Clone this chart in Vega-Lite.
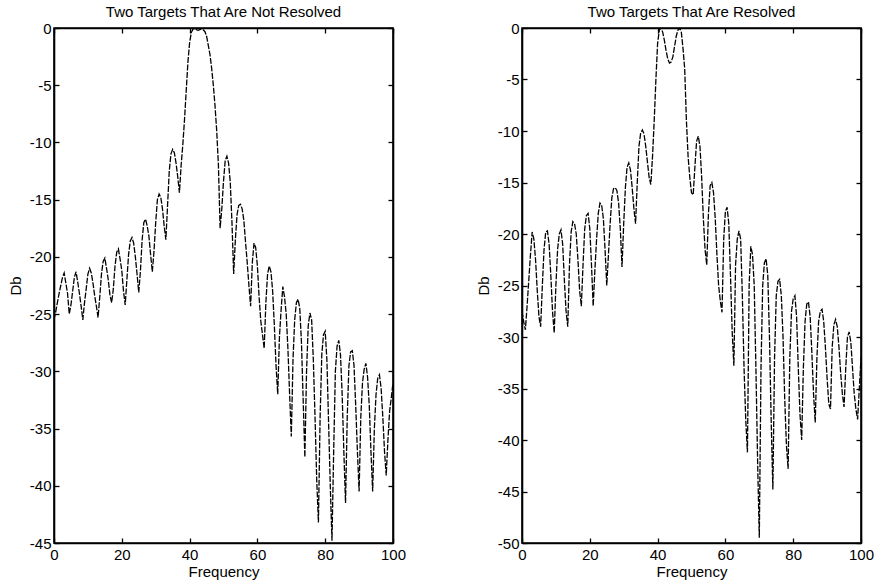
{
  "$schema": "https://vega.github.io/schema/vega-lite/v6.json",
  "background": "white",
  "padding": {"left": 7, "top": 4, "right": 4, "bottom": 2},
  "spacing": 68,
  "config": {
    "font": "Liberation Sans",
    "view": {"stroke": "black", "strokeWidth": 1.6},
    "axis": {
      "grid": false,
      "domainColor": "black",
      "domainWidth": 1.6,
      "tickColor": "black",
      "tickSize": -5,
      "tickWidth": 1.3,
      "labelFont": "Liberation Sans",
      "labelFontSize": 15,
      "labelColor": "black",
      "labelPadding": 8,
      "labelFlush": false,
      "labelOverlap": false,
      "labelExpr": "toString(datum.value)",
      "titleFont": "Liberation Sans",
      "titleFontSize": 15,
      "titleFontWeight": "normal",
      "titleColor": "black"
    },
    "title": {"font": "Liberation Sans", "fontSize": 15, "fontWeight": "normal", "color": "black", "anchor": "middle", "frame": "group", "offset": 1}
  },
  "datasets": {
    "notResolved": [
      {"f": 0, "db": -25.5}, {"f": 0.5, "db": -24.8}, {"f": 1, "db": -24.0}, {"f": 1.5, "db": -23.2}, {"f": 2, "db": -22.5}, {"f": 2.5, "db": -21.8}, {"f": 3, "db": -21.4}, {"f": 3.5, "db": -22.3}, {"f": 4, "db": -23.2}, {"f": 4.5, "db": -25.0},
      {"f": 5, "db": -24.2}, {"f": 5.5, "db": -23.0}, {"f": 6, "db": -21.8}, {"f": 6.5, "db": -21.3}, {"f": 7, "db": -22.2}, {"f": 7.5, "db": -23.2}, {"f": 8, "db": -24.3}, {"f": 8.5, "db": -25.5}, {"f": 9, "db": -24.0}, {"f": 9.5, "db": -22.8},
      {"f": 10, "db": -21.5}, {"f": 10.5, "db": -21.0}, {"f": 11, "db": -21.4}, {"f": 11.5, "db": -22.3}, {"f": 12, "db": -23.4}, {"f": 12.5, "db": -24.3}, {"f": 13, "db": -25.3}, {"f": 13.5, "db": -23.5}, {"f": 14, "db": -21.5}, {"f": 14.5, "db": -20.4},
      {"f": 15, "db": -20.1}, {"f": 15.5, "db": -21.0}, {"f": 16, "db": -22.0}, {"f": 16.5, "db": -23.3}, {"f": 17, "db": -24.0}, {"f": 17.5, "db": -22.8}, {"f": 18, "db": -20.8}, {"f": 18.5, "db": -19.6}, {"f": 19, "db": -19.3}, {"f": 19.5, "db": -20.2},
      {"f": 20, "db": -21.2}, {"f": 20.5, "db": -23.0}, {"f": 21, "db": -24.2}, {"f": 21.5, "db": -22.0}, {"f": 22, "db": -19.8}, {"f": 22.5, "db": -18.6}, {"f": 23, "db": -18.3}, {"f": 23.5, "db": -18.8}, {"f": 24, "db": -20.0}, {"f": 24.5, "db": -21.5},
      {"f": 25, "db": -23.1}, {"f": 25.5, "db": -21.2}, {"f": 26, "db": -18.5}, {"f": 26.5, "db": -17.0}, {"f": 27, "db": -16.7}, {"f": 27.5, "db": -17.3}, {"f": 28, "db": -18.2}, {"f": 28.5, "db": -19.8}, {"f": 29, "db": -21.3}, {"f": 29.5, "db": -19.5},
      {"f": 30, "db": -17.0}, {"f": 30.5, "db": -15.0}, {"f": 31, "db": -14.5}, {"f": 31.5, "db": -14.8}, {"f": 32, "db": -15.8}, {"f": 32.5, "db": -17.3}, {"f": 33, "db": -18.5}, {"f": 33.5, "db": -15.5}, {"f": 34, "db": -12.5}, {"f": 34.5, "db": -11.0},
      {"f": 35, "db": -10.6}, {"f": 35.5, "db": -10.9}, {"f": 36, "db": -11.8}, {"f": 36.5, "db": -13.0}, {"f": 37, "db": -14.4}, {"f": 37.5, "db": -12.0}, {"f": 38, "db": -10.2}, {"f": 38.5, "db": -8.0}, {"f": 39, "db": -5.5}, {"f": 39.5, "db": -3.0},
      {"f": 40, "db": -1.3}, {"f": 40.5, "db": -0.4}, {"f": 41, "db": -0.1}, {"f": 41.5, "db": -0.05}, {"f": 42, "db": -0.15}, {"f": 42.5, "db": -0.2}, {"f": 43, "db": -0.15}, {"f": 43.5, "db": -0.1}, {"f": 44, "db": -0.15}, {"f": 44.5, "db": -0.3},
      {"f": 45, "db": -0.7}, {"f": 45.5, "db": -1.5}, {"f": 46, "db": -2.3}, {"f": 46.5, "db": -3.5}, {"f": 47, "db": -5.0}, {"f": 47.5, "db": -6.8}, {"f": 48, "db": -9.0}, {"f": 48.5, "db": -12.0}, {"f": 49, "db": -17.5}, {"f": 49.5, "db": -15.8},
      {"f": 50, "db": -13.4}, {"f": 50.5, "db": -11.6}, {"f": 51, "db": -11.2}, {"f": 51.5, "db": -11.8}, {"f": 52, "db": -13.5}, {"f": 52.5, "db": -17.0}, {"f": 53, "db": -21.5}, {"f": 53.5, "db": -18.5}, {"f": 54, "db": -16.3}, {"f": 54.5, "db": -15.5},
      {"f": 55, "db": -15.4}, {"f": 55.5, "db": -15.8}, {"f": 56, "db": -16.8}, {"f": 56.5, "db": -18.7}, {"f": 57, "db": -20.5}, {"f": 57.5, "db": -22.5}, {"f": 58, "db": -24.3}, {"f": 58.5, "db": -20.5}, {"f": 59, "db": -18.8}, {"f": 59.5, "db": -19.2},
      {"f": 60, "db": -20.8}, {"f": 60.5, "db": -23.5}, {"f": 61, "db": -25.6}, {"f": 61.5, "db": -26.8}, {"f": 62, "db": -28.0}, {"f": 62.5, "db": -24.0}, {"f": 63, "db": -21.5}, {"f": 63.5, "db": -20.8}, {"f": 64, "db": -21.3}, {"f": 64.5, "db": -23.0},
      {"f": 65, "db": -26.0}, {"f": 65.5, "db": -29.5}, {"f": 66, "db": -32.0}, {"f": 66.5, "db": -27.0}, {"f": 67, "db": -24.6}, {"f": 67.5, "db": -22.6}, {"f": 68, "db": -23.5}, {"f": 68.5, "db": -25.0}, {"f": 69, "db": -28.0}, {"f": 69.5, "db": -32.0},
      {"f": 70, "db": -35.7}, {"f": 70.5, "db": -29.0}, {"f": 71, "db": -25.5}, {"f": 71.5, "db": -24.0}, {"f": 72, "db": -23.7}, {"f": 72.5, "db": -24.5}, {"f": 73, "db": -27.5}, {"f": 73.5, "db": -32.5}, {"f": 74, "db": -37.5}, {"f": 74.5, "db": -30.0},
      {"f": 75, "db": -26.0}, {"f": 75.5, "db": -24.9}, {"f": 76, "db": -25.5}, {"f": 76.5, "db": -29.0}, {"f": 77, "db": -34.0}, {"f": 77.5, "db": -39.5}, {"f": 78, "db": -43.2}, {"f": 78.5, "db": -34.0}, {"f": 79, "db": -28.5}, {"f": 79.5, "db": -26.8},
      {"f": 80, "db": -26.5}, {"f": 80.5, "db": -29.0}, {"f": 81, "db": -34.5}, {"f": 81.5, "db": -40.0}, {"f": 82, "db": -44.8}, {"f": 82.5, "db": -37.0}, {"f": 83, "db": -30.0}, {"f": 83.5, "db": -27.8}, {"f": 84, "db": -27.3}, {"f": 84.5, "db": -28.5},
      {"f": 85, "db": -32.0}, {"f": 85.5, "db": -37.0}, {"f": 86, "db": -41.5}, {"f": 86.5, "db": -34.0}, {"f": 87, "db": -29.5}, {"f": 87.5, "db": -28.3}, {"f": 88, "db": -28.2}, {"f": 88.5, "db": -29.5}, {"f": 89, "db": -33.0}, {"f": 89.5, "db": -37.0},
      {"f": 90, "db": -40.5}, {"f": 90.5, "db": -34.0}, {"f": 91, "db": -31.0}, {"f": 91.5, "db": -29.8}, {"f": 92, "db": -29.3}, {"f": 92.5, "db": -30.5}, {"f": 93, "db": -33.0}, {"f": 93.5, "db": -37.0}, {"f": 94, "db": -40.5}, {"f": 94.5, "db": -35.0},
      {"f": 95, "db": -32.0}, {"f": 95.5, "db": -30.6}, {"f": 96, "db": -30.3}, {"f": 96.5, "db": -31.5}, {"f": 97, "db": -34.0}, {"f": 97.5, "db": -37.0}, {"f": 98, "db": -39.1}, {"f": 98.5, "db": -36.0}, {"f": 99, "db": -33.5}, {"f": 99.5, "db": -32.3},
      {"f": 100, "db": -31.0}
    ],
    "resolved": [
      {"f": 0, "db": -27.5}, {"f": 0.5, "db": -28.5}, {"f": 1, "db": -29.3}, {"f": 1.5, "db": -27.0}, {"f": 2, "db": -24.5}, {"f": 2.5, "db": -22.0}, {"f": 3, "db": -19.8}, {"f": 3.5, "db": -20.5}, {"f": 4, "db": -22.5}, {"f": 4.5, "db": -25.5},
      {"f": 5, "db": -28.0}, {"f": 5.5, "db": -29.0}, {"f": 6, "db": -25.0}, {"f": 6.5, "db": -21.5}, {"f": 7, "db": -19.8}, {"f": 7.5, "db": -19.7}, {"f": 8, "db": -21.0}, {"f": 8.5, "db": -24.0}, {"f": 9, "db": -27.5}, {"f": 9.5, "db": -29.6},
      {"f": 10, "db": -25.0}, {"f": 10.5, "db": -21.5}, {"f": 11, "db": -20.0}, {"f": 11.5, "db": -19.6}, {"f": 12, "db": -21.0}, {"f": 12.5, "db": -24.5}, {"f": 13, "db": -27.5}, {"f": 13.5, "db": -29.0}, {"f": 14, "db": -23.0}, {"f": 14.5, "db": -19.8},
      {"f": 15, "db": -18.8}, {"f": 15.5, "db": -19.0}, {"f": 16, "db": -20.0}, {"f": 16.5, "db": -22.5}, {"f": 17, "db": -25.5}, {"f": 17.5, "db": -27.0}, {"f": 18, "db": -23.0}, {"f": 18.5, "db": -19.5}, {"f": 19, "db": -18.2}, {"f": 19.5, "db": -18.0},
      {"f": 20, "db": -19.5}, {"f": 20.5, "db": -23.0}, {"f": 21, "db": -27.0}, {"f": 21.5, "db": -23.5}, {"f": 22, "db": -20.5}, {"f": 22.5, "db": -18.0}, {"f": 23, "db": -17.0}, {"f": 23.5, "db": -17.2}, {"f": 24, "db": -18.5}, {"f": 24.5, "db": -21.5},
      {"f": 25, "db": -25.0}, {"f": 25.5, "db": -22.0}, {"f": 26, "db": -19.0}, {"f": 26.5, "db": -16.5}, {"f": 27, "db": -15.6}, {"f": 27.5, "db": -15.5}, {"f": 28, "db": -15.8}, {"f": 28.5, "db": -17.0}, {"f": 29, "db": -19.5}, {"f": 29.5, "db": -23.2},
      {"f": 30, "db": -19.0}, {"f": 30.5, "db": -15.5}, {"f": 31, "db": -13.5}, {"f": 31.5, "db": -13.1}, {"f": 32, "db": -13.8}, {"f": 32.5, "db": -15.5}, {"f": 33, "db": -17.5}, {"f": 33.5, "db": -19.0}, {"f": 34, "db": -15.0}, {"f": 34.5, "db": -11.5},
      {"f": 35, "db": -10.2}, {"f": 35.5, "db": -9.9}, {"f": 36, "db": -10.3}, {"f": 36.5, "db": -11.5}, {"f": 37, "db": -13.0}, {"f": 37.5, "db": -14.5}, {"f": 38, "db": -15.2}, {"f": 38.5, "db": -12.5}, {"f": 39, "db": -9.0}, {"f": 39.5, "db": -5.0},
      {"f": 40, "db": -1.5}, {"f": 40.5, "db": -0.2}, {"f": 41, "db": 0.0}, {"f": 41.5, "db": -0.4}, {"f": 42, "db": -1.2}, {"f": 42.5, "db": -2.2}, {"f": 43, "db": -3.0}, {"f": 43.5, "db": -3.4}, {"f": 44, "db": -3.3}, {"f": 44.5, "db": -2.8},
      {"f": 45, "db": -1.8}, {"f": 45.5, "db": -0.8}, {"f": 46, "db": -0.2}, {"f": 46.5, "db": 0.0}, {"f": 47, "db": -0.4}, {"f": 47.5, "db": -2.0}, {"f": 48, "db": -4.0}, {"f": 48.5, "db": -9.0}, {"f": 49, "db": -12.5}, {"f": 49.5, "db": -14.5},
      {"f": 50, "db": -16.0}, {"f": 50.5, "db": -16.2}, {"f": 51, "db": -13.5}, {"f": 51.5, "db": -11.0}, {"f": 52, "db": -10.5}, {"f": 52.5, "db": -11.5}, {"f": 53, "db": -14.5}, {"f": 53.5, "db": -18.5}, {"f": 54, "db": -21.5}, {"f": 54.5, "db": -23.0},
      {"f": 55, "db": -18.0}, {"f": 55.5, "db": -15.3}, {"f": 56, "db": -15.0}, {"f": 56.5, "db": -16.0}, {"f": 57, "db": -18.5}, {"f": 57.5, "db": -22.0}, {"f": 58, "db": -25.0}, {"f": 58.5, "db": -26.5}, {"f": 59, "db": -27.6}, {"f": 59.5, "db": -20.5},
      {"f": 60, "db": -17.8}, {"f": 60.5, "db": -17.4}, {"f": 61, "db": -19.0}, {"f": 61.5, "db": -24.0}, {"f": 62, "db": -29.5}, {"f": 62.5, "db": -32.8}, {"f": 63, "db": -23.0}, {"f": 63.5, "db": -20.5}, {"f": 64, "db": -19.7}, {"f": 64.5, "db": -20.5},
      {"f": 65, "db": -26.0}, {"f": 65.5, "db": -33.0}, {"f": 66, "db": -38.0}, {"f": 66.5, "db": -41.2}, {"f": 67, "db": -25.0}, {"f": 67.5, "db": -21.2}, {"f": 68, "db": -22.0}, {"f": 68.5, "db": -25.0}, {"f": 69, "db": -33.0}, {"f": 69.5, "db": -42.0},
      {"f": 70, "db": -49.5}, {"f": 70.5, "db": -33.0}, {"f": 71, "db": -25.0}, {"f": 71.5, "db": -22.8}, {"f": 72, "db": -22.4}, {"f": 72.5, "db": -24.0}, {"f": 73, "db": -30.0}, {"f": 73.5, "db": -38.0}, {"f": 74, "db": -44.8}, {"f": 74.5, "db": -32.0},
      {"f": 75, "db": -26.0}, {"f": 75.5, "db": -24.6}, {"f": 76, "db": -24.4}, {"f": 76.5, "db": -26.0}, {"f": 77, "db": -30.0}, {"f": 77.5, "db": -36.0}, {"f": 78, "db": -40.5}, {"f": 78.5, "db": -42.8}, {"f": 79, "db": -32.0}, {"f": 79.5, "db": -27.5},
      {"f": 80, "db": -26.3}, {"f": 80.5, "db": -26.0}, {"f": 81, "db": -28.0}, {"f": 81.5, "db": -33.0}, {"f": 82, "db": -37.5}, {"f": 82.5, "db": -40.0}, {"f": 83, "db": -33.0}, {"f": 83.5, "db": -28.5}, {"f": 84, "db": -26.8}, {"f": 84.5, "db": -26.6},
      {"f": 85, "db": -28.0}, {"f": 85.5, "db": -31.5}, {"f": 86, "db": -35.5}, {"f": 86.5, "db": -38.3}, {"f": 87, "db": -32.0}, {"f": 87.5, "db": -28.5}, {"f": 88, "db": -27.5}, {"f": 88.5, "db": -27.3}, {"f": 89, "db": -28.5}, {"f": 89.5, "db": -31.0},
      {"f": 90, "db": -34.0}, {"f": 90.5, "db": -36.5}, {"f": 91, "db": -37.0}, {"f": 91.5, "db": -31.0}, {"f": 92, "db": -28.8}, {"f": 92.5, "db": -28.3}, {"f": 93, "db": -29.0}, {"f": 93.5, "db": -31.0}, {"f": 94, "db": -33.5}, {"f": 94.5, "db": -35.5},
      {"f": 95, "db": -36.8}, {"f": 95.5, "db": -33.0}, {"f": 96, "db": -30.0}, {"f": 96.5, "db": -29.5}, {"f": 97, "db": -30.5}, {"f": 97.5, "db": -33.0}, {"f": 98, "db": -35.5}, {"f": 98.5, "db": -37.0}, {"f": 99, "db": -38.0}, {"f": 99.5, "db": -35.0},
      {"f": 100, "db": -32.0}
    ]
  },
  "hconcat": [
    {
      "width": 339,
      "height": 515,
      "title": "Two Targets That Are Not Resolved",
      "data": {"name": "notResolved"},
      "layer": [
        {
          "mark": {"type": "line", "color": "black", "strokeWidth": 1.3, "strokeDash": [6, 1.5], "clip": true},
          "encoding": {
            "x": {"field": "f", "type": "quantitative", "scale": {"domain": [0, 100], "nice": false, "zero": false},
                  "axis": {"orient": "bottom", "values": [0, 20, 40, 60, 80, 100], "title": "Frequency", "titlePadding": 2, "labelPadding": 9}},
            "y": {"field": "db", "type": "quantitative", "scale": {"domain": [-45, 0], "nice": false, "zero": false},
                  "axis": {"orient": "left", "values": [0, -5, -10, -15, -20, -25, -30, -35, -40, -45], "title": "Db", "titlePadding": 6}}
          }
        },
        {
          "mark": {"type": "line", "strokeOpacity": 0},
          "encoding": {
            "x": {"field": "f", "type": "quantitative", "scale": {"domain": [0, 100], "nice": false, "zero": false},
                  "axis": {"orient": "top", "values": [0, 20, 40, 60, 80, 100], "labels": false, "title": null}},
            "y": {"field": "db", "type": "quantitative", "scale": {"domain": [-45, 0], "nice": false, "zero": false},
                  "axis": {"orient": "right", "values": [0, -5, -10, -15, -20, -25, -30, -35, -40, -45], "labels": false, "title": null}}
          }
        }
      ],
      "resolve": {"axis": {"x": "independent", "y": "independent"}}
    },
    {
      "width": 339,
      "height": 515,
      "title": "Two Targets That Are Resolved",
      "data": {"name": "resolved"},
      "layer": [
        {
          "mark": {"type": "line", "color": "black", "strokeWidth": 1.3, "strokeDash": [6, 1.5], "clip": true},
          "encoding": {
            "x": {"field": "f", "type": "quantitative", "scale": {"domain": [0, 100], "nice": false, "zero": false},
                  "axis": {"orient": "bottom", "values": [0, 20, 40, 60, 80, 100], "title": "Frequency", "titlePadding": 2, "labelPadding": 9}},
            "y": {"field": "db", "type": "quantitative", "scale": {"domain": [-50, 0], "nice": false, "zero": false},
                  "axis": {"orient": "left", "values": [0, -5, -10, -15, -20, -25, -30, -35, -40, -45, -50], "title": "Db", "titlePadding": 6}}
          }
        },
        {
          "mark": {"type": "line", "strokeOpacity": 0},
          "encoding": {
            "x": {"field": "f", "type": "quantitative", "scale": {"domain": [0, 100], "nice": false, "zero": false},
                  "axis": {"orient": "top", "values": [0, 20, 40, 60, 80, 100], "labels": false, "title": null}},
            "y": {"field": "db", "type": "quantitative", "scale": {"domain": [-50, 0], "nice": false, "zero": false},
                  "axis": {"orient": "right", "values": [0, -5, -10, -15, -20, -25, -30, -35, -40, -45, -50], "labels": false, "title": null}}
          }
        }
      ],
      "resolve": {"axis": {"x": "independent", "y": "independent"}}
    }
  ]
}
